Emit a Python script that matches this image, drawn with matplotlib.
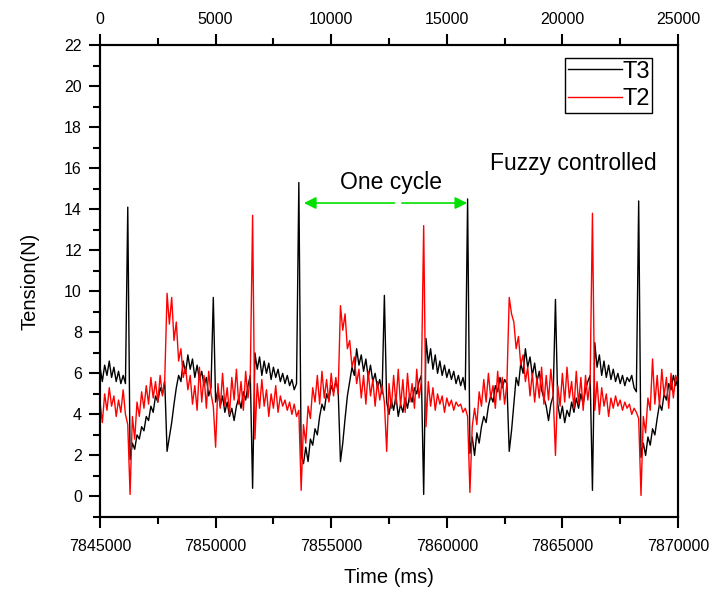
import numpy as np
import matplotlib
matplotlib.use('Agg')
import matplotlib.pyplot as plt
from matplotlib.ticker import MultipleLocator

plt.rcParams['font.family'] = ['Liberation Sans', 'DejaVu Sans']

# sample times (ms), one reading every 100 ms
t_start, t_end, t_step = 7845000, 7870000, 100
time_ms = np.arange(t_start, t_end + 1, t_step)

# T3 tension (N)
t3 = [
    6.3, 5.6, 6.4, 5.9, 6.6, 5.8, 6.3, 5.6, 6.1, 5.5,
    5.9, 5.5, 14.1, 1.8, 2.6, 2.3, 3.0, 2.8, 3.4, 3.2,
    3.9, 3.7, 4.4, 4.1, 4.9, 4.6, 5.3, 5.0, 5.6, 2.2,
    2.9, 3.6, 4.5, 5.3, 5.9, 5.6, 6.6, 6.0, 6.9, 6.2,
    6.7, 5.8, 6.4, 5.7, 6.1, 5.4, 5.8, 4.9, 5.3, 9.7,
    4.6, 5.2, 4.4, 4.9, 4.1, 4.6, 3.9, 4.3, 3.7, 4.4,
    4.8, 4.3, 5.1, 4.7, 5.4, 5.9, 0.4, 7.0, 6.2, 6.8,
    5.9, 6.6, 6.0, 6.5, 5.7, 6.3, 5.8, 6.2, 5.6, 6.0,
    5.5, 5.9, 5.4, 5.7, 5.2, 5.5, 15.3, 2.0, 1.6, 2.4,
    1.7, 2.8, 2.5, 3.3, 3.0, 3.9, 4.5, 4.2, 5.0, 4.7,
    5.4, 5.1, 5.6, 5.2, 1.7, 2.6, 3.8, 4.9, 5.6, 6.3,
    5.9, 7.2, 6.4, 6.9, 6.1, 6.7, 5.8, 6.4, 5.6, 6.0,
    5.3, 5.7, 5.0, 9.8, 4.6, 4.0, 4.7, 4.2, 4.9, 3.9,
    4.5, 4.1, 4.8, 4.3, 5.0, 4.6, 5.3, 5.0, 5.6, 5.9,
    0.1, 7.7, 6.5, 7.2, 6.2, 6.9, 6.0, 6.6, 5.9, 6.4,
    5.8, 6.2, 5.7, 6.1, 5.5, 5.9, 5.4, 5.8, 5.2, 14.5,
    2.1, 2.9, 2.0, 3.1, 2.6, 3.4, 3.9, 3.6, 4.4, 4.9,
    4.6, 5.4, 5.1, 5.8, 5.3, 5.7, 5.5, 2.2, 3.2, 4.5,
    5.8, 5.4, 6.5, 6.0, 7.2, 6.3, 6.8, 5.9, 6.5, 5.6,
    6.1, 5.2, 4.8, 4.4, 3.7, 4.5, 4.9, 9.6, 4.5, 3.8,
    4.4, 3.6, 4.2, 3.9, 4.6, 4.1, 4.8, 4.3, 5.0, 4.5,
    5.2, 5.6, 5.9, 0.3, 7.5, 6.3, 6.9, 5.9, 6.6, 5.8,
    6.4, 5.7, 6.2, 5.6, 6.0, 5.5, 5.9, 5.4, 5.8, 5.6,
    5.9, 5.3, 5.1, 14.4, 1.9, 2.6, 2.0, 2.9, 2.5, 3.3,
    3.0, 3.8, 4.5, 4.2, 5.0, 4.7, 5.5, 5.2, 5.9, 5.4,
    5.8,
]

# T2 tension (N)
t2 = [
    4.6, 3.6, 5.0, 4.2, 5.3, 4.4, 4.9, 3.9, 4.7, 4.1,
    5.2, 4.0, 3.5, 0.1, 3.9, 2.8, 4.6, 3.9, 5.1, 4.3,
    5.4, 4.5, 5.8, 4.8, 5.6, 4.6, 5.9, 4.9, 5.7, 9.9,
    8.4, 9.7, 7.6, 8.5, 6.6, 7.2, 5.8, 6.3, 5.2, 5.9,
    4.5, 5.4, 4.2, 6.3, 4.6, 5.9, 4.3, 6.1, 5.0, 4.4,
    2.4, 5.5, 4.3, 6.0, 4.4, 5.3, 4.0, 5.8, 4.7, 6.2,
    4.5, 5.6, 4.2, 6.1, 4.8, 5.9, 13.7, 2.8, 5.5, 4.3,
    5.7, 4.4, 5.2, 3.9, 5.0, 4.3, 5.4, 4.1, 4.9, 4.4,
    4.7, 4.2, 4.6, 4.0, 4.5, 3.9, 4.2, 0.3, 3.5, 2.6,
    4.4, 3.8, 5.3, 4.6, 5.9, 4.5, 6.1, 4.8, 5.7, 4.6,
    6.0, 4.9, 5.8, 5.0, 9.3, 8.1, 8.9, 7.2, 7.6, 6.3,
    6.8, 5.5, 6.2, 4.8, 5.9, 4.5, 6.1, 4.9, 5.7, 4.4,
    5.6, 4.7, 5.4, 4.6, 2.2, 5.5, 4.3, 5.9, 4.5, 6.2,
    4.4, 5.7, 4.1, 6.0, 4.6, 5.5, 4.3, 6.2, 4.8, 5.6,
    13.2, 3.4, 5.6, 4.4, 5.3, 4.2, 5.0, 4.5, 4.9, 4.1,
    4.8, 4.4, 4.7, 4.2, 4.6, 4.4, 4.5, 4.1, 4.3, 3.9,
    0.2, 3.4, 4.3, 3.5, 5.1, 4.4, 5.7, 4.6, 6.0, 4.8,
    5.4, 4.3, 6.1, 4.7, 5.8, 4.5, 5.5, 9.7, 8.9, 8.5,
    7.2, 7.8, 6.4, 6.9, 5.6, 6.3, 4.9, 6.0, 4.6, 5.8,
    4.8, 6.3, 4.5, 5.9, 4.7, 6.2, 5.0, 2.0, 5.4, 4.4,
    6.0, 4.6, 6.3, 4.8, 5.6, 4.3, 6.1, 4.5, 5.8, 4.2,
    5.9, 4.7, 5.6, 13.8, 4.2, 5.6, 4.0, 5.3, 4.4, 5.0,
    3.9, 4.8, 4.3, 4.9, 4.4, 4.7, 4.2, 4.6, 4.3, 4.5,
    4.0, 4.3, 4.1, 3.8, 0.05, 3.9, 3.1, 4.8, 4.2, 6.7,
    4.5, 5.9, 4.4, 6.2, 4.9, 5.8, 4.3, 6.0, 4.8, 5.9,
    5.5,
]

# one-cycle marker (between two big T3 peaks)
cycle_start, cycle_mid, cycle_end, cycle_level = 7853700, 7857900, 7861000, 14.3

fig = plt.figure(figsize=(7.16, 5.97), dpi=100)
ax = fig.add_axes([0.1397, 0.134, 0.8072, 0.7906])

ax.plot(time_ms, t3, color='black', lw=1.0, label='T3')
ax.plot(time_ms, t2, color='red', lw=1.0, label='T2')

ax.set_xlim(t_start, t_end)
ax.set_ylim(-1, 22)
ax.xaxis.set_major_locator(MultipleLocator(5000))
ax.xaxis.set_minor_locator(MultipleLocator(2500))
ax.yaxis.set_major_locator(MultipleLocator(2))
ax.yaxis.set_minor_locator(MultipleLocator(1))
ax.ticklabel_format(axis='x', style='plain', useOffset=False)
ax.tick_params(which='major', direction='out', length=8, width=1.5, labelsize=11.5, pad=5)
ax.tick_params(which='minor', direction='out', length=5, width=1.5)
ax.tick_params(right=False, top=False, which='both')
ax.tick_params(axis='x', pad=8)

# elapsed-time scale on top
top = ax.twiny()
top.set_xlim(0, t_end - t_start)
top.xaxis.set_major_locator(MultipleLocator(5000))
top.xaxis.set_minor_locator(MultipleLocator(2500))
top.tick_params(which='major', direction='out', length=8, width=1.5, labelsize=11.5, pad=5)
top.tick_params(which='minor', direction='out', length=5, width=1.5)

for a in (ax, top):
    for s in a.spines.values():
        s.set_linewidth(1.5)

ax.set_xlabel('Time (ms)', fontsize=14.5, labelpad=10)
ax.set_ylabel('Tension(N)', fontsize=14.5, labelpad=18)

# green double arrow for one cycle
arrow_kw = dict(arrowstyle='-|>', color='#00e000', lw=1.2, mutation_scale=18)
ax.annotate('', xy=(cycle_start, cycle_level), xytext=(cycle_mid - 40, cycle_level),
            arrowprops=arrow_kw)
ax.annotate('', xy=(cycle_end, cycle_level), xytext=(cycle_mid + 40, cycle_level),
            arrowprops=arrow_kw)
ax.text(7857600, 15.3, 'One cycle', fontsize=16.5, ha='center', va='center')
ax.text(0.675, 0.75, 'Fuzzy controlled', fontsize=16.5, ha='left', va='center',
        transform=ax.transAxes)

leg = ax.legend(loc='upper right', bbox_to_anchor=(0.955, 0.972), fontsize=17,
                handlelength=2.3, handletextpad=0.0, borderpad=0.1, labelspacing=0.25,
                borderaxespad=0, fancybox=False, framealpha=1, edgecolor='black')
leg.get_frame().set_linewidth(1.0)

fig.savefig('out.png', dpi=100)
